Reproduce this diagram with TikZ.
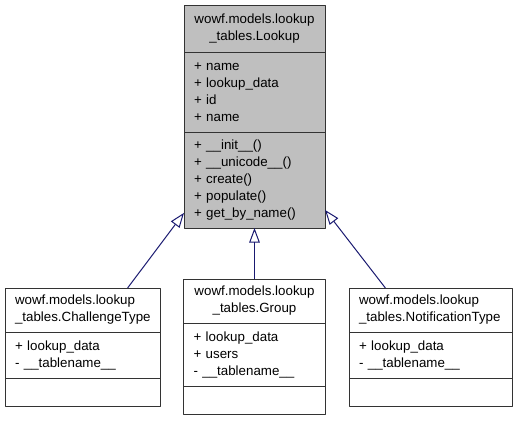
\documentclass[tikz,border=0pt]{standalone}
\usepackage{fontspec}
\setmainfont{Liberation Sans}
\usetikzlibrary{positioning,arrows.meta}
\definecolor{edgeblue}{HTML}{191970}
\begin{document}
\begin{tikzpicture}[x=0.75pt, y=-0.75pt, font=\fontsize{10}{12.75}\selectfont, line join=round]
			\tikzset{cbox/.style={draw=black!80, line width=0.75pt, outer sep=0pt, inner xsep=7.5pt, inner ysep=0pt},
				hd/.style={cbox, align=center, minimum width=#1, minimum height=33pt},
				hdl/.style={cbox, align=left, text width=#1, minimum height=33pt},
				sec/.style={cbox, align=left, text width=#1},
				ih/.style={draw=edgeblue, line width=0.75pt, -{Triangle[open, length=11pt, width=8pt]}}}
			\useasboundingbox(0,0)rectangle(517,421);
			\node[hd=105.75pt, fill=black!25, minimum height=35.25pt, anchor=north west](lkA)at(184,5){wowf.models.lookup\\\_tables.Lookup};
			\node[sec=90.75pt, fill=black!25, minimum height=60pt, below=0pt of lkA](lkB){+ name\\+ lookup\_data\\+ id\\+ name};
			\node[sec=90.75pt, fill=black!25, minimum height=72pt, below=0pt of lkB](lkC){+ \_\_init\_\_()\\+ \_\_unicode\_\_()\\+ create()\\+ populate()\\+ get\_by\_name()};
			\node[hdl=101.25pt, anchor=north west](chA)at(5,288){wowf.models.lookup\\\_tables.ChallengeType};
			\node[sec=101.25pt, minimum height=34.5pt, below=0pt of chA](chB){+ lookup\_data\\- \_\_tablename\_\_};
			\node[sec=101.25pt, minimum height=21pt, below=0pt of chB](chC){};
			\node[hd=106.5pt, anchor=north west](grA)at(183.5,279){wowf.models.lookup\\\_tables.Group};
			\node[sec=91.5pt, minimum height=47.25pt, below=0pt of grA](grB){+ lookup\_data\\+ users\\- \_\_tablename\_\_};
			\node[sec=91.5pt, minimum height=21pt, below=0pt of grB](grC){};
			\node[hdl=107.25pt, anchor=north west](nfA)at(349,288){wowf.models.lookup\\\_tables.NotificationType};
			\node[sec=107.25pt, minimum height=34.5pt, below=0pt of nfA](nfB){+ lookup\_data\\- \_\_tablename\_\_};
			\node[sec=107.25pt, minimum height=21pt, below=0pt of nfB](nfC){};
			\foreach \x/\y in {
				chA.26/lkC.205,
				grA.north/lkC.south,
				nfA.154/lkC.337}
			\draw[ih](\x)--(\y);
		\end{tikzpicture}
\end{document}
